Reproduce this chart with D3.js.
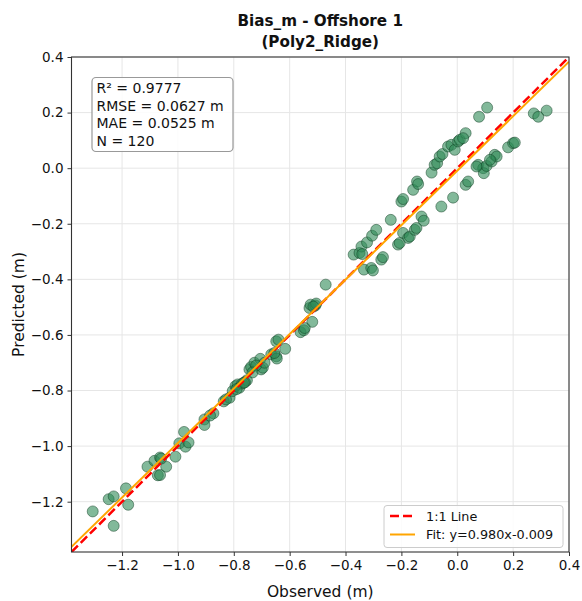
<!DOCTYPE html>
<html><head><meta charset="utf-8">
<script src="https://cdn.jsdelivr.net/npm/d3@7"></script>
<style>body{margin:0;background:#fff}svg{display:block;font-family:"DejaVu Sans",sans-serif}</style>
</head><body><svg id="c" width="582" height="601"></svg>
<script>
const observed = [-1.305,-1.230,-1.248,-1.230,-1.186,-1.178,-1.109,-1.084,-1.064,-1.042,-1.072,-1.064,-1.009,-0.995,-0.978,-0.973,-0.962,-0.905,-0.905,-0.873,-0.836,-0.815,-0.804,-0.794,-0.786,-0.780,-0.770,-0.753,-0.744,-0.738,-0.726,-0.705,-0.702,-0.696,-0.666,-0.648,-0.646,-0.648,-0.640,-0.616,-0.561,-0.549,-0.519,-0.529,-0.525,-0.508,-0.505,-0.471,-0.334,-0.308,-0.302,-0.371,-0.350,-0.343,-0.323,-0.305,-0.290,-0.272,-0.266,-0.238,-0.212,-0.206,-0.194,-0.176,-0.170,-0.152,-0.146,-0.128,-0.120,-0.200,-0.194,-0.158,-0.144,-0.140,-0.092,-0.081,-0.072,-0.063,-0.053,-0.057,-0.015,0.030,0.039,0.075,0.093,0.095,0.105,0.123,0.134,0.141,0.182,0.200,0.206,-0.033,-0.021,-0.009,0.003,0.009,0.030,0.078,0.107,0.274,0.290,0.320,-0.790,-0.760,-0.720,-0.690,-0.655,-0.515,-0.828,-0.885,0.069,0.117,-0.340,-0.733,-0.764,-0.546,-1.060,0.021];
const predicted = [-1.235,-1.287,-1.191,-1.181,-1.152,-1.211,-1.074,-1.053,-1.041,-1.074,-1.105,-1.104,-1.038,-0.990,-0.949,-1.002,-0.987,-0.904,-0.924,-0.882,-0.839,-0.826,-0.802,-0.784,-0.778,-0.790,-0.775,-0.763,-0.724,-0.715,-0.700,-0.686,-0.724,-0.718,-0.670,-0.677,-0.685,-0.623,-0.617,-0.650,-0.590,-0.583,-0.553,-0.503,-0.491,-0.494,-0.487,-0.419,-0.365,-0.359,-0.368,-0.311,-0.305,-0.282,-0.267,-0.243,-0.222,-0.329,-0.320,-0.186,-0.275,-0.269,-0.233,-0.251,-0.246,-0.222,-0.215,-0.174,-0.189,-0.120,-0.111,-0.078,-0.048,-0.057,-0.016,0.012,0.018,0.042,0.051,-0.138,-0.106,-0.060,-0.048,0.012,0.000,-0.018,0.008,0.024,0.048,0.042,0.075,0.090,0.092,0.078,0.084,0.066,0.096,0.102,0.126,0.185,0.218,0.197,0.185,0.207,-0.795,-0.770,-0.710,-0.700,-0.665,-0.498,-0.832,-0.890,0.006,0.030,-0.309,-0.735,-0.772,-0.575,-1.045,0.108];
const tickValues = [-1.2,-1.0,-0.8,-0.6,-0.4,-0.2,0.0,0.2,0.4];
const domainLimits = [-1.381, 0.4];
const fitSlope = 0.980, fitIntercept = -0.009;
const statsLines = ["R² = 0.9777","RMSE = 0.0627 m","MAE = 0.0525 m","N = 120"];
const legendLabels = ["1:1 Line","Fit: y=0.980x-0.009"];
const titleLines = ["Bias_m - Offshore 1","(Poly2_Ridge)"];

const svg = d3.select("#c");
const L=71.5, R=569, T=57, B=552;
const x = d3.scaleLinear().domain(domainLimits).range([L,R]);
const y = d3.scaleLinear().domain(domainLimits).range([B,T]);
const fmt = d3.format(".1f");

// grid
const g = svg.append("g");
g.selectAll(".gx").data(tickValues).join("line").attr("x1",d=>x(d)).attr("x2",d=>x(d)).attr("y1",T).attr("y2",B).attr("stroke","#e6e6e6").attr("stroke-width",1);
g.selectAll(".gy").data(tickValues).join("line").attr("y1",d=>y(d)).attr("y2",d=>y(d)).attr("x1",L).attr("x2",R).attr("stroke","#e6e6e6").attr("stroke-width",1);

// points
const pts = observed.map((o,i)=>({o, p:predicted[i]}));
svg.append("g").selectAll("circle").data(pts).join("circle")
  .attr("cx",d=>x(d.o)).attr("cy",d=>y(d.p)).attr("r",5.5)
  .attr("fill","#2e8b57").attr("fill-opacity",0.6)
  .attr("stroke","#0d3b20").attr("stroke-opacity",0.6).attr("stroke-width",0.8);

// lines
svg.append("clipPath").attr("id","pc").append("rect").attr("x",L).attr("y",T).attr("width",R-L).attr("height",B-T);
const lg = svg.append("g").attr("clip-path","url(#pc)");
lg.append("line").attr("x1",x(domainLimits[0])).attr("y1",y(domainLimits[0])).attr("x2",x(domainLimits[1])).attr("y2",y(domainLimits[1]))
  .attr("stroke","#ff0000").attr("stroke-width",2.5).attr("stroke-dasharray","9,4");
lg.append("line").attr("x1",x(domainLimits[0])).attr("y1",y(fitSlope*domainLimits[0]+fitIntercept))
  .attr("x2",x(domainLimits[1])).attr("y2",y(fitSlope*domainLimits[1]+fitIntercept))
  .attr("stroke","#ffa500").attr("stroke-width",2);

// axes
const ax = svg.append("g").attr("transform",`translate(0,${B})`).call(d3.axisBottom(x).tickValues(tickValues).tickFormat(fmt).tickSizeOuter(0).tickSize(4).tickPadding(4));
const ay = svg.append("g").attr("transform",`translate(${L},0)`).call(d3.axisLeft(y).tickValues(tickValues).tickFormat(fmt).tickSizeOuter(0).tickSize(4).tickPadding(4));
[ax,ay].forEach(a=>{a.select(".domain").remove();a.selectAll("line").attr("stroke","#333");a.selectAll("text").attr("font-size","13.5px").attr("fill","#111").attr("font-family","DejaVu Sans");});
svg.append("rect").attr("x",L).attr("y",T).attr("width",R-L).attr("height",B-T).attr("fill","none").attr("stroke","#333").attr("stroke-width",1.1);

// titles
svg.append("text").attr("x",(L+R)/2).attr("y",26).attr("text-anchor","middle").attr("font-weight","bold").attr("font-size","15.2px").attr("fill","#111").text(titleLines[0]);
svg.append("text").attr("x",(L+R)/2).attr("y",47).attr("text-anchor","middle").attr("font-weight","bold").attr("font-size","15.2px").attr("fill","#111").text(titleLines[1]);
svg.append("text").attr("x",(L+R)/2).attr("y",597).attr("text-anchor","middle").attr("font-size","15.5px").attr("fill","#111").text("Observed (m)");
svg.append("text").attr("transform",`translate(24,${(T+B)/2}) rotate(-90)`).attr("text-anchor","middle").attr("font-size","15.5px").attr("fill","#111").text("Predicted (m)");

// stats box
svg.append("rect").attr("x",92).attr("y",77.5).attr("width",141).attr("height",74).attr("rx",4).attr("fill","#fff").attr("fill-opacity",0.85).attr("stroke","#999").attr("stroke-width",1.2);
svg.append("g").selectAll("text").data(statsLines).join("text").attr("x",96.5).attr("y",(d,i)=>93+i*17.5).attr("font-size","14px").attr("fill","#111").text(d=>d);

// legend
svg.append("rect").attr("x",384).attr("y",505.5).attr("width",179).attr("height",42).attr("rx",3).attr("fill","#fff").attr("fill-opacity",0.85).attr("stroke","#ccc").attr("stroke-width",1);
svg.append("line").attr("x1",390).attr("x2",415).attr("y1",516).attr("y2",516).attr("stroke","#ff0000").attr("stroke-width",2.5).attr("stroke-dasharray","9,4");
svg.append("line").attr("x1",390).attr("x2",415).attr("y1",534.5).attr("y2",534.5).attr("stroke","#ffa500").attr("stroke-width",2);
svg.append("text").attr("x",426).attr("y",520.5).attr("font-size","12.8px").attr("fill","#111").text(legendLabels[0]);
svg.append("text").attr("x",426).attr("y",539).attr("font-size","12.8px").attr("fill","#111").text(legendLabels[1]);
</script></body></html>
